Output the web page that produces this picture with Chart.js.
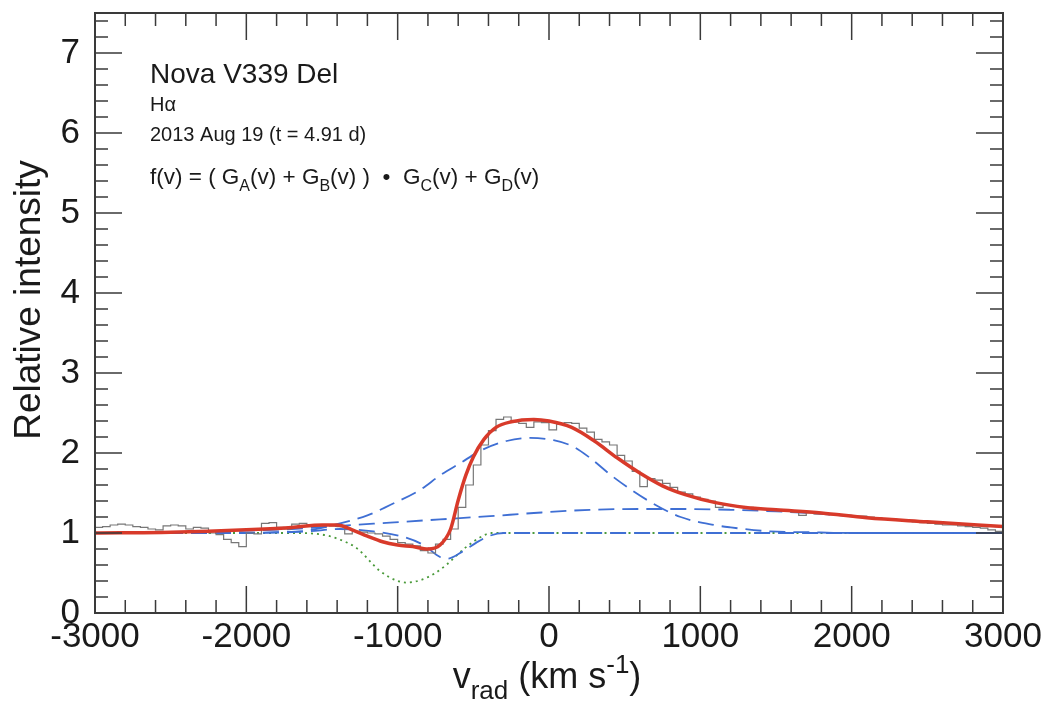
<!DOCTYPE html>
<html>
<head>
<meta charset="utf-8">
<script src="https://cdn.jsdelivr.net/npm/chart.js@4.4.1/dist/chart.umd.min.js"></script>
<style>
  html, body { margin: 0; padding: 0; background: #fff; }
</style>
</head>
<body>
<canvas id="spectrum" width="1054" height="702"></canvas>
<script>
// observed spectrum, 50 km/s bins (left edges)
const histV = [-3000,-2950,-2900,-2850,-2800,-2750,-2700,-2650,-2600,-2550,-2500,-2450,-2400,-2350,-2300,-2250,-2200,-2150,-2100,-2050,
  -2000,-1950,-1900,-1850,-1800,-1750,-1700,-1650,-1600,-1550,-1500,-1450,-1400,-1350,-1300,-1250,-1200,-1150,-1100,-1050,
  -1000,-950,-900,-850,-800,-750,-700,-650,-600,-550,-500,-450,-400,-350,-300,-250,-200,-150,-100,-50,
  0,50,100,150,200,250,300,350,400,450,500,550,600,650,700,750,800,850,900,950,
  1000,1050,1100,1150,1200,1250,1300,1350,1400,1450,1500,1550,1600,1650,1700,1750,1800,1850,1900,1950,
  2000,2050,2100,2150,2200,2250,2300,2350,2400,2450,2500,2550,2600,2650,2700,2750,2800,2850,2900,2950,3000];
const histI = [1.07,1.08,1.10,1.11,1.10,1.08,1.07,1.05,1.04,1.09,1.10,1.09,1.05,1.07,1.06,1.00,0.98,0.92,0.88,0.83,
  1.00,0.99,1.12,1.13,1.07,1.05,1.11,1.12,1.10,1.09,1.10,1.09,1.08,0.99,1.02,1.01,1.00,0.99,0.96,0.92,
  0.88,0.86,0.84,0.78,0.75,0.86,0.92,1.05,1.32,1.60,1.85,2.10,2.28,2.42,2.45,2.39,2.37,2.32,2.39,2.38,
  2.29,2.36,2.38,2.37,2.31,2.26,2.17,2.14,2.10,1.97,1.90,1.77,1.58,1.68,1.66,1.62,1.57,1.51,1.49,1.45,
  1.42,1.40,1.32,1.35,1.34,1.33,1.32,1.31,1.30,1.29,1.28,1.27,1.26,1.22,1.25,1.24,1.24,1.23,1.23,1.22,
  1.21,1.21,1.20,1.19,1.18,1.17,1.16,1.15,1.14,1.13,1.12,1.11,1.10,1.10,1.09,1.08,1.07,1.06,1.04,1.02,1.01];

// total fit f(v)
const fitV = [-3000,-2500,-2000,-1700,-1500,-1400,-1300,-1200,-1100,-1000,-900,-800,-720,-650,-600,-550,-500,-430,-350,-250,-100,0,150,300,450,600,750,900,1100,1300,1500,1800,2100,2500,3000];
const fitI = [1.00,1.01,1.04,1.07,1.10,1.10,1.04,0.96,0.89,0.85,0.83,0.80,0.85,1.05,1.41,1.72,1.95,2.17,2.32,2.39,2.42,2.40,2.32,2.15,1.94,1.75,1.59,1.48,1.38,1.32,1.29,1.25,1.19,1.14,1.08];

// components
const compAV = [-3000,-2200,-1800,-1600,-1380,-1200,-1050,-850,-720,-590,-440,-280,-125,30,160,270,425,650,870,1090,1200,1460,1700,2000,3000];
const compAI = [1.00,1.00,1.01,1.03,1.12,1.22,1.35,1.54,1.72,1.87,2.04,2.15,2.19,2.16,2.08,1.94,1.70,1.41,1.20,1.10,1.07,1.02,1.01,1.00,1.00];
const compBV = [-3000,-2500,-2000,-1700,-1380,-1050,-720,-390,-100,270,650,900,1200,1500,1800,2100,2500,3000];
const compBI = [1.00,1.01,1.03,1.05,1.09,1.13,1.17,1.21,1.25,1.29,1.30,1.30,1.29,1.27,1.24,1.19,1.14,1.08];
const compDV = [-3000,-2000,-1600,-1380,-1160,-960,-830,-720,-670,-570,-480,-400,-300,3000];
const compDI = [1.00,1.00,1.02,1.05,1.02,0.95,0.85,0.70,0.68,0.77,0.88,0.96,1.00,1.00];
const absCV = [-3000,-1700,-1500,-1400,-1270,-1120,-1000,-940,-850,-750,-680,-550,-450,-380,3000];
const absCI = [1.00,1.00,0.98,0.93,0.81,0.53,0.40,0.38,0.41,0.50,0.60,0.82,0.95,1.00,1.00];

const xTicks = [-3000, -2000, -1000, 0, 1000, 2000, 3000];
const yTicks = [0, 1, 2, 3, 4, 5, 6, 7];

const FONT = '"Liberation Sans", Arial, Helvetica, sans-serif';
const pts = (vs, is) => vs.map((v, i) => ({ x: v, y: is[i] }));

// frame with inward ticks on all four sides
const frameTicks = {
  id: 'frameTicks',
  afterDatasetsDraw(chart) {
    const { ctx, chartArea: a, scales: { x, y } } = chart;
    ctx.save();
    ctx.strokeStyle = '#3a3a3a';
    ctx.lineWidth = 1.5;
    ctx.beginPath();
    for (let v = -3000; v <= 3000; v += 200) {
      const px = x.getPixelForValue(v);
      const len = v % 1000 === 0 ? 27 : 13;
      ctx.moveTo(px, a.bottom); ctx.lineTo(px, a.bottom - len);
      ctx.moveTo(px, a.top); ctx.lineTo(px, a.top + len);
    }
    for (let i = 0; i <= 37; i++) {
      const py = y.getPixelForValue(i / 5);
      const len = i % 5 === 0 ? 27 : 13;
      ctx.moveTo(a.left, py); ctx.lineTo(a.left + len, py);
      ctx.moveTo(a.right, py); ctx.lineTo(a.right - len, py);
    }
    ctx.stroke();
    ctx.lineWidth = 2;
    ctx.strokeRect(a.left, a.top, a.width, a.height);
    ctx.restore();
  }
};

// draw a run of text pieces, some sub/superscripted
function richText(ctx, parts, x, y, size, align) {
  const fontOf = k => (k === 'n' ? size : Math.round(size * 0.72)) + 'px ' + FONT;
  let total = 0;
  parts.forEach(([t, k]) => { ctx.font = fontOf(k); total += ctx.measureText(t).width; });
  let cx = align === 'center' ? x - total / 2 : x;
  parts.forEach(([t, k]) => {
    ctx.font = fontOf(k);
    const dy = k === 'sub' ? size * 0.3 : k === 'sup' ? -size * 0.42 : 0;
    ctx.fillText(t, cx, y + dy);
    cx += ctx.measureText(t).width;
  });
}

const labels = {
  id: 'labels',
  afterDraw(chart) {
    const { ctx } = chart;
    ctx.save();
    ctx.fillStyle = '#1a1a1a';
    ctx.textBaseline = 'alphabetic';
    ctx.textAlign = 'left';

    ctx.font = '28px ' + FONT;
    ctx.fillText('Nova V339 Del', 150, 83);
    ctx.font = '20px ' + FONT;
    ctx.fillText('Hα', 150, 111);
    ctx.fillText('2013 Aug 19 (t = 4.91 d)', 150, 141);
    richText(ctx, [['f(v) = ( G', 'n'], ['A', 'sub'], ['(v) + G', 'n'], ['B', 'sub'],
      ['(v) )  •  G', 'n'], ['C', 'sub'], ['(v) + G', 'n'], ['D', 'sub'], ['(v)', 'n']], 150, 184, 22.5, 'left');

    // axis titles
    richText(ctx, [['v', 'n'], ['rad', 'sub'], [' (km s', 'n'], ['-1', 'sup'], [')', 'n']],
      547, 688, 36, 'center');
    ctx.translate(40, 300);
    ctx.rotate(-Math.PI / 2);
    ctx.textAlign = 'center';
    ctx.font = '37px ' + FONT;
    ctx.fillText('Relative intensity', 0, 0);
    ctx.restore();
  }
};

new Chart(document.getElementById('spectrum'), {
  type: 'line',
  data: {
    datasets: [
      { label: 'fit', data: pts(fitV, fitI), borderColor: '#d83a2a', borderWidth: 3.5,
        cubicInterpolationMode: 'monotone', order: 0 },
      { label: 'observed', data: pts(histV, histI), borderColor: '#777', borderWidth: 1.2,
        stepped: 'before', order: 1 },
      { label: 'G_A', data: pts(compAV, compAI), borderColor: '#3f6fd4', borderWidth: 1.8,
        borderDash: [16, 8], cubicInterpolationMode: 'monotone', order: 2 },
      { label: 'G_B', data: pts(compBV, compBI), borderColor: '#3f6fd4', borderWidth: 1.8,
        borderDash: [16, 8], cubicInterpolationMode: 'monotone', order: 3 },
      { label: 'G_D', data: pts(compDV, compDI), borderColor: '#3f6fd4', borderWidth: 1.8,
        borderDash: [16, 8], cubicInterpolationMode: 'monotone', order: 4 },
      { label: 'G_C', data: pts(absCV, absCI), borderColor: '#4a9a3a', borderWidth: 1.8,
        borderDash: [2, 4], cubicInterpolationMode: 'monotone', order: 5 }
    ]
  },
  options: {
    responsive: false,
    animation: false,
    events: [],
    parsing: false,
    elements: { point: { radius: 0 }, line: { fill: false } },
    layout: { padding: { left: 0, right: 51, top: 13, bottom: 0 } },
    plugins: { legend: { display: false }, tooltip: { enabled: false } },
    scales: {
      x: {
        type: 'linear', min: -3000, max: 3000,
        afterBuildTicks: s => { s.ticks = xTicks.map(v => ({ value: v })); },
        afterFit: s => { s.height = 89; s.paddingLeft = 0; s.paddingRight = 0; },
        grid: { display: false, drawTicks: false },
        border: { display: false },
        ticks: { color: '#1a1a1a', font: { family: FONT, size: 35 }, padding: 3,
          maxRotation: 0, autoSkip: false, callback: v => String(v) }
      },
      y: {
        type: 'linear', min: 0, max: 7.5,
        afterBuildTicks: s => { s.ticks = yTicks.map(v => ({ value: v })); },
        afterFit: s => { s.width = 95; s.paddingTop = 0; s.paddingBottom = 0; },
        grid: { display: false, drawTicks: false },
        border: { display: false },
        ticks: { color: '#1a1a1a', font: { family: FONT, size: 35 }, padding: 15,
          callback: v => String(v) }
      }
    }
  },
  plugins: [frameTicks, labels]
});
</script>
</body>
</html>
